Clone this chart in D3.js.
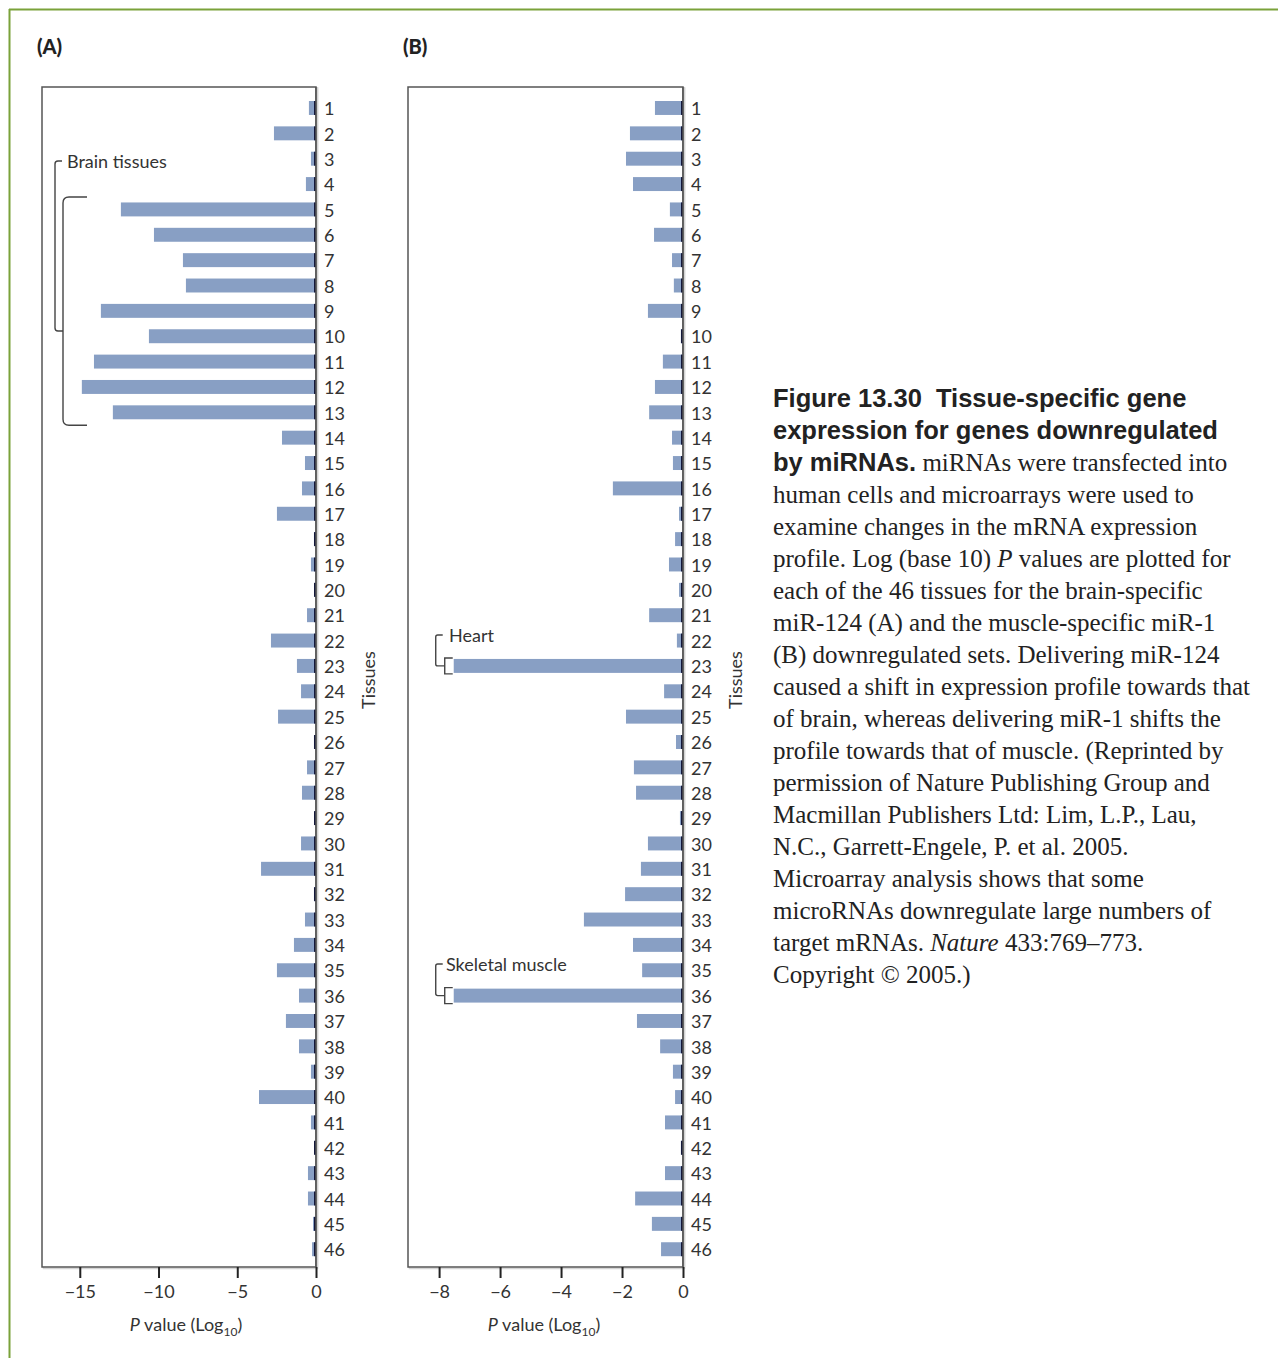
<!DOCTYPE html>
<html>
<head>
<meta charset="utf-8">
<script src="https://cdn.jsdelivr.net/npm/d3@7"></script>
<style>
html,body{margin:0;padding:0;background:#fff;}
svg{display:block;}
</style>
</head>
<body>
<svg id="chart" width="1278" height="1358"></svg>
<script>
// ---------- DATA ----------
const tissues = d3.range(1, 47).map(String);
const valuesA = [-0.45,-2.67,-0.32,-0.64,-12.39,-10.29,-8.45,-8.26,-13.66,-10.61,
  -14.10,-14.87,-12.90,-2.16,-0.70,-0.89,-2.48,-0.13,-0.32,-0.12,
  -0.57,-2.86,-1.21,-0.95,-2.41,-0.13,-0.57,-0.89,-0.05,-0.95,
  -3.49,-0.13,-0.70,-1.40,-2.48,-1.08,-1.91,-1.08,-0.32,-3.62,
  -0.32,-0.10,-0.51,-0.51,-0.19,-0.25];
const valuesB = [-0.92,-1.74,-1.87,-1.64,-0.43,-0.95,-0.36,-0.30,-1.15,-0.07,
  -0.66,-0.92,-1.11,-0.36,-0.33,-2.30,-0.13,-0.26,-0.46,-0.13,
  -1.11,-0.20,-7.52,-0.62,-1.87,-0.23,-1.61,-1.54,-0.10,-1.15,
  -1.38,-1.90,-3.25,-1.64,-1.34,-7.52,-1.51,-0.75,-0.33,-0.26,
  -0.59,-0.07,-0.59,-1.57,-1.02,-0.72];
const ticksA = [-15, -10, -5, 0];
const ticksB = [-8, -6, -4, -2, 0];
const panelLabels = ["(A)", "(B)"];
const yAxisTitle = "Tissues";
const annotations = {brain: "Brain tissues", heart: "Heart", muscle: "Skeletal muscle"};
const captionLines = [
  [{t:"Figure 13.30\u00a0 Tissue-specific gene", s:"b"}],
  [{t:"expression for genes downregulated", s:"b"}],
  [{t:"by miRNAs.", s:"b"}, {t:" miRNAs were transfected into"}],
  [{t:"human cells and microarrays were used to"}],
  [{t:"examine changes in the mRNA expression"}],
  [{t:"profile. Log (base 10) "}, {t:"P", s:"i"}, {t:" values are plotted for"}],
  [{t:"each of the 46 tissues for the brain-specific"}],
  [{t:"miR-124 (A) and the muscle-specific miR-1"}],
  [{t:"(B) downregulated sets. Delivering miR-124"}],
  [{t:"caused a shift in expression profile towards that"}],
  [{t:"of brain, whereas delivering miR-1 shifts the"}],
  [{t:"profile towards that of muscle. (Reprinted by"}],
  [{t:"permission of Nature Publishing Group and"}],
  [{t:"Macmillan Publishers Ltd: Lim, L.P., Lau,"}],
  [{t:"N.C., Garrett-Engele, P. et al. 2005."}],
  [{t:"Microarray analysis shows that some"}],
  [{t:"microRNAs downregulate large numbers of"}],
  [{t:"target mRNAs. "}, {t:"Nature", s:"i"}, {t:" 433:769\u2013773."}],
  [{t:"Copyright \u00a9 2005.)"}]
];

// ---------- STYLE ----------
const sans = "Lato, 'Open Sans', sans-serif";
const barColor = "#889fc4";
const textColor = "#333";
const svg = d3.select("#chart");

// page border
svg.append("line").attr("x1", 9).attr("x2", 1278).attr("y1", 9.5).attr("y2", 9.5)
  .attr("stroke", "#7aa23a").attr("stroke-width", 2);
svg.append("line").attr("x1", 9.5).attr("x2", 9.5).attr("y1", 9).attr("y2", 1358)
  .attr("stroke", "#7aa23a").attr("stroke-width", 2);

const frameTop = 87, frameBottom = 1267;
const y = d3.scaleBand().domain(tissues).range([95.3, 1261.9]).paddingInner(0.45).paddingOuter(0.225);

function panel(cfg) {
  const x = d3.scaleLinear().domain(cfg.domain).range([cfg.left, cfg.zero]);
  const g = svg.append("g");
  g.append("rect").attr("x", cfg.left + 1.5).attr("y", frameTop + 1.5)
    .attr("width", cfg.zero - cfg.left).attr("height", frameBottom - frameTop)
    .attr("fill", "none").attr("stroke", "#d4d4d4").attr("stroke-width", 1.5);
  g.append("rect").attr("x", cfg.left).attr("y", frameTop)
    .attr("width", cfg.zero - cfg.left).attr("height", frameBottom - frameTop)
    .attr("fill", "#fff").attr("stroke", "#555").attr("stroke-width", 1.5);
  g.selectAll("rect.bar").data(cfg.values).join("rect").attr("class", "bar")
    .attr("x", d => x(d)).attr("width", d => x(0) - x(d))
    .attr("y", (d, i) => y(tissues[i])).attr("height", y.bandwidth())
    .attr("fill", barColor);
  g.selectAll("rect.stub").data(cfg.values).join("rect").attr("class", "stub")
    .attr("x", x(0) - 2).attr("width", 2)
    .attr("y", (d, i) => y(tissues[i])).attr("height", y.bandwidth())
    .attr("fill", "#14183a");
  const ax = g.append("g").attr("transform", `translate(0,${frameBottom})`)
    .call(d3.axisBottom(x).tickValues(cfg.ticks).tickSize(11).tickSizeOuter(0).tickPadding(7));
  ax.select(".domain").remove();
  ax.selectAll(".tick line").attr("stroke", "#222").attr("stroke-width", 2);
  ax.selectAll(".tick text").attr("font-family", sans).attr("font-size", 18).attr("fill", textColor);
  const ay = g.append("g").attr("transform", `translate(${cfg.zero},0)`)
    .call(d3.axisRight(y).tickSize(0).tickPadding(8));
  ay.select(".domain").remove();
  ay.selectAll(".tick text").attr("font-family", sans).attr("font-size", 18).attr("fill", textColor)
    .attr("dy", "0.4em");
  g.append("line").attr("x1", cfg.zero + 1.5).attr("x2", cfg.zero + 1.5).attr("y1", frameTop).attr("y2", frameBottom)
    .attr("stroke", "#d4d4d4").attr("stroke-width", 1.5);
  g.append("line").attr("x1", cfg.zero).attr("x2", cfg.zero).attr("y1", frameTop).attr("y2", frameBottom)
    .attr("stroke", "#555").attr("stroke-width", 1.5);
  const t = g.append("text").attr("x", cfg.titleX).attr("y", 1331).attr("text-anchor", "middle")
    .attr("font-family", sans).attr("font-size", 18).attr("fill", textColor);
  t.append("tspan").attr("font-style", "italic").text("P");
  t.append("tspan").text(" value (Log");
  t.append("tspan").attr("font-size", 12).attr("dy", 5).text("10");
  t.append("tspan").attr("dy", -5).text(")");
  g.append("text").attr("transform", `translate(${cfg.zero + 59},${680}) rotate(-90)`)
    .attr("text-anchor", "middle").attr("font-family", sans).attr("font-size", 18)
    .attr("fill", textColor).text(yAxisTitle);
  g.append("text").attr("x", cfg.labelX).attr("y", 54).attr("font-family", sans)
    .attr("font-weight", 900).attr("font-size", 20).attr("fill", "#222").text(cfg.label);
  return {x, g};
}

const A = panel({left: 42, zero: 316, domain: [-17.4, 0], values: valuesA, ticks: ticksA,
  titleX: 186, labelX: 37, label: panelLabels[0]});
const B = panel({left: 408, zero: 683, domain: [-9.02, 0], values: valuesB, ticks: ticksB,
  titleX: 544, labelX: 403, label: panelLabels[1]});

// ---------- annotations ----------
function path(g, d) {
  g.append("path").attr("d", d).attr("fill", "none").attr("stroke", "#444").attr("stroke-width", 1.4);
}
function label(g, x0, yy, txt) {
  g.append("text").attr("x", x0).attr("y", yy).attr("font-family", sans).attr("font-size", 18)
    .attr("fill", textColor).text(txt);
}
const yb5 = y("5") - 5.5, yb13 = y("13") + y.bandwidth() + 6;
path(A.g, `M87,${yb5} L69,${yb5} Q63,${yb5} 63,${yb5 + 6} L63,${yb13 - 6} Q63,${yb13} 69,${yb13} L87,${yb13}`);
path(A.g, `M62,161 L58,161 Q55,161 55,164 L55,328 Q55,331 58,331 L63,331`);
label(A.g, 67, 168, annotations.brain);

function smallBracket(g, row, topY, txt, txtX) {
  const y0 = y(row) - 1, y1 = y(row) + y.bandwidth() + 1;
  const xb = B.x(valuesB[tissues.indexOf(row)]) - 9;
  path(g, `M${xb + 8},${y0} L${xb},${y0} L${xb},${y1} L${xb + 8},${y1}`);
  const xo = xb - 9, ym = (y0 + y1) / 2;
  path(g, `M${xo + 7},${topY} L${xo + 2},${topY} Q${xo},${topY} ${xo},${topY + 2} L${xo},${ym - 2} Q${xo},${ym} ${xo + 2},${ym} L${xb},${ym}`);
  label(g, txtX, topY + 7, txt);
}
smallBracket(B.g, "23", 635, annotations.heart, 449);
smallBracket(B.g, "36", 964, annotations.muscle, 446);

// ---------- caption ----------
const cap = svg.append("g");
captionLines.forEach((line, i) => {
  const t = cap.append("text").attr("x", 773).attr("y", 407 + i * 32)
    .attr("fill", "#222").attr("font-size", 25).attr("font-family", "'Liberation Serif', serif");
  line.forEach(seg => {
    const s = t.append("tspan").text(seg.t);
    if (seg.s === "b") s.attr("font-family", "'Liberation Sans', Arial, sans-serif").attr("font-weight", "bold").attr("font-size", 25.5);
    if (seg.s === "i") s.attr("font-style", "italic");
  });
});
</script>
</body>
</html>
